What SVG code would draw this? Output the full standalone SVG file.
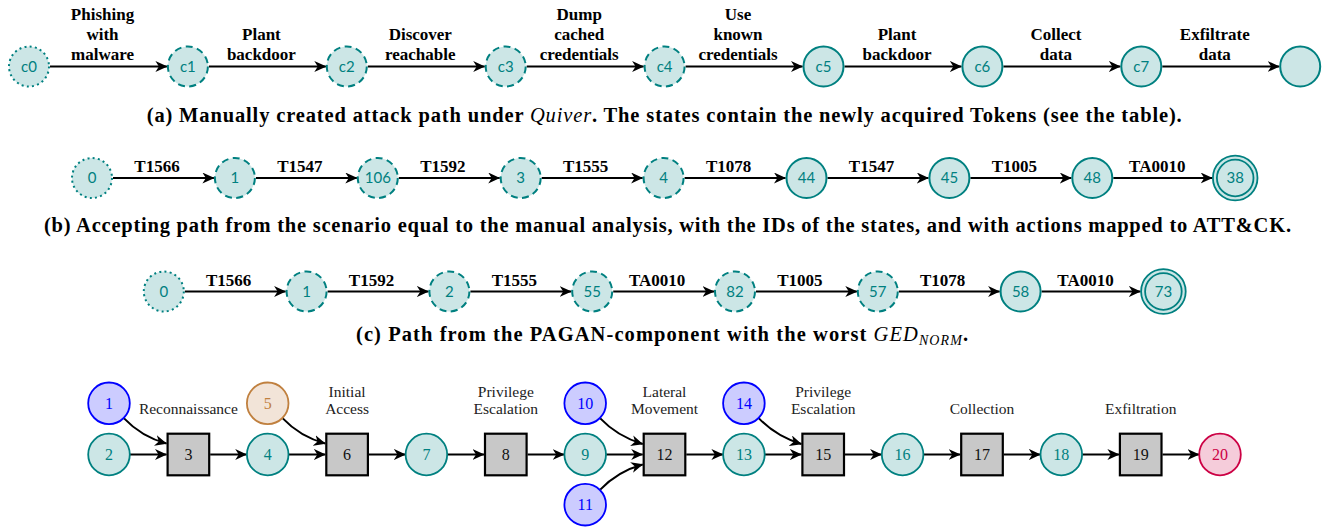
<svg xmlns="http://www.w3.org/2000/svg" width="1338" height="529" viewBox="0 0 1338 529">
<defs>
<marker id="ah" markerUnits="userSpaceOnUse" markerWidth="12" markerHeight="11" viewBox="0 0 12 11" refX="11.5" refY="5.5" orient="auto"><path d="M0,0 L12,5.5 L0,11 L3.5,5.5 z" fill="#000"/></marker>
<style>
.n{fill:#cce6e6;stroke:#008080;stroke-width:2}
.dash{stroke-dasharray:7 4.43}
.dot{stroke-dasharray:2 3.24}
.nt{font-family:Lato,"Noto Sans",sans-serif;font-size:15px;fill:#008080;text-anchor:middle}
.el{font-family:"Liberation Serif",serif;font-weight:bold;font-size:17px;text-anchor:middle;fill:#000}
.cap{font-family:"Liberation Serif",serif;font-weight:bold;font-size:20.5px;text-anchor:middle;fill:#000}
.it{font-style:italic;font-weight:normal}
.e{stroke:#000;stroke-width:2;fill:none;marker-end:url(#ah)}
.bt{fill:#cce6e6;stroke:#008080;stroke-width:1.8}
.bb{fill:#ccccff;stroke:#0000ff;stroke-width:1.8}
.bo{fill:#f2e4d8;stroke:#c0803f;stroke-width:1.8}
.br{fill:#f5ccda;stroke:#cc0044;stroke-width:1.8}
.sq{fill:#c8c8c8;stroke:#000;stroke-width:2.2}
.bn{font-family:"Liberation Serif",serif;font-size:16px;text-anchor:middle}
.tt{fill:#008080}.tb{fill:#0000ff}.to{fill:#c0803f}.tr{fill:#cc0044}.tk{fill:#111}
.pl{font-family:"Liberation Serif",serif;font-size:15.5px;text-anchor:middle;fill:#222}
</style>
</defs>
<rect width="1338" height="529" fill="#fff"/>

<!-- Row (a) -->
<g id="connectors-a">
<line class="e" x1="50" y1="66.5" x2="166.9" y2="66.5"/>
<line class="e" x1="208.9" y1="66.5" x2="325.8" y2="66.5"/>
<line class="e" x1="367.8" y1="66.5" x2="484.7" y2="66.5"/>
<line class="e" x1="526.7" y1="66.5" x2="643.6" y2="66.5"/>
<line class="e" x1="685.6" y1="66.5" x2="802.5" y2="66.5"/>
<line class="e" x1="844.5" y1="66.5" x2="961.4" y2="66.5"/>
<line class="e" x1="1003.4" y1="66.5" x2="1120.3" y2="66.5"/>
<line class="e" x1="1162.3" y1="66.5" x2="1279.2" y2="66.5"/>
<text class="el" x="102.5" y="20">Phishing</text><text class="el" x="102.5" y="40">with</text><text class="el" x="102.5" y="60">malware</text>
<text class="el" x="261.4" y="40">Plant</text><text class="el" x="261.4" y="60">backdoor</text>
<text class="el" x="420.3" y="40">Discover</text><text class="el" x="420.3" y="60">reachable</text>
<text class="el" x="579.2" y="20">Dump</text><text class="el" x="579.2" y="40">cached</text><text class="el" x="579.2" y="60">credentials</text>
<text class="el" x="738" y="20">Use</text><text class="el" x="738" y="40">known</text><text class="el" x="738" y="60">credentials</text>
<text class="el" x="897" y="40">Plant</text><text class="el" x="897" y="60">backdoor</text>
<text class="el" x="1055.9" y="40">Collect</text><text class="el" x="1055.9" y="60">data</text>
<text class="el" x="1214.8" y="40">Exfiltrate</text><text class="el" x="1214.8" y="60">data</text>
</g>
<g id="a-c0"><circle class="n dot" cx="29" cy="66.5" r="20"/><text class="nt" x="29" y="71.5">c0</text></g>
<g id="a-c1"><circle class="n dash" cx="187.9" cy="66.5" r="20"/><text class="nt" x="187.9" y="71.5">c1</text></g>
<g id="a-c2"><circle class="n dash" cx="346.8" cy="66.5" r="20"/><text class="nt" x="346.8" y="71.5">c2</text></g>
<g id="a-c3"><circle class="n dash" cx="505.7" cy="66.5" r="20"/><text class="nt" x="505.7" y="71.5">c3</text></g>
<g id="a-c4"><circle class="n dash" cx="664.6" cy="66.5" r="20"/><text class="nt" x="664.6" y="71.5">c4</text></g>
<g id="a-c5"><circle class="n" cx="823.5" cy="66.5" r="20"/><text class="nt" x="823.5" y="71.5">c5</text></g>
<g id="a-c6"><circle class="n" cx="982.4" cy="66.5" r="20"/><text class="nt" x="982.4" y="71.5">c6</text></g>
<g id="a-c7"><circle class="n" cx="1141.3" cy="66.5" r="20"/><text class="nt" x="1141.3" y="71.5">c7</text></g>
<g id="a-end"><circle class="n" cx="1300.2" cy="66.5" r="20"/></g>
<text class="cap" x="664.2" y="122" textLength="1035">(a) Manually created attack path under <tspan class="it">Quiver</tspan>. The states contain the newly acquired Tokens (see the table).</text>

<!-- Row (b) -->
<g id="connectors-b">
<line class="e" x1="113" y1="178" x2="213.9" y2="178"/>
<line class="e" x1="255.9" y1="178" x2="356.8" y2="178"/>
<line class="e" x1="398.8" y1="178" x2="499.7" y2="178"/>
<line class="e" x1="541.7" y1="178" x2="642.6" y2="178"/>
<line class="e" x1="684.6" y1="178" x2="785.5" y2="178"/>
<line class="e" x1="827.5" y1="178" x2="928.4" y2="178"/>
<line class="e" x1="970.4" y1="178" x2="1071.3" y2="178"/>
<line class="e" x1="1113.3" y1="178" x2="1212.2" y2="178"/>
<text class="el" x="157" y="172">T1566</text>
<text class="el" x="299.9" y="172">T1547</text>
<text class="el" x="442.8" y="172">T1592</text>
<text class="el" x="585.7" y="172">T1555</text>
<text class="el" x="728.6" y="172">T1078</text>
<text class="el" x="871.5" y="172">T1547</text>
<text class="el" x="1014.4" y="172">T1005</text>
<text class="el" x="1157.3" y="172">TA0010</text>
</g>
<g id="b-0"><circle class="n dot" cx="92" cy="178" r="20"/><text class="nt" x="92" y="183">0</text></g>
<g id="b-1"><circle class="n dash" cx="234.9" cy="178" r="20"/><text class="nt" x="234.9" y="183">1</text></g>
<g id="b-106"><circle class="n dash" cx="377.8" cy="178" r="20"/><text class="nt" x="377.8" y="183">106</text></g>
<g id="b-3"><circle class="n dash" cx="520.7" cy="178" r="20"/><text class="nt" x="520.7" y="183">3</text></g>
<g id="b-4"><circle class="n dash" cx="663.6" cy="178" r="20"/><text class="nt" x="663.6" y="183">4</text></g>
<g id="b-44"><circle class="n" cx="806.5" cy="178" r="20"/><text class="nt" x="806.5" y="183">44</text></g>
<g id="b-45"><circle class="n" cx="949.4" cy="178" r="20"/><text class="nt" x="949.4" y="183">45</text></g>
<g id="b-48"><circle class="n" cx="1092.3" cy="178" r="20"/><text class="nt" x="1092.3" y="183">48</text></g>
<g id="b-38"><circle class="n" cx="1235.2" cy="178" r="22.3" style="stroke-width:1.8"/><circle class="n" cx="1235.2" cy="178" r="18.3" style="stroke-width:1.8"/><text class="nt" x="1235.2" y="183">38</text></g>
<text class="cap" x="667.5" y="232" textLength="1247">(b) Accepting path from the scenario equal to the manual analysis, with the IDs of the states, and with actions mapped to ATT&amp;CK.</text>

<!-- Row (c) -->
<g id="connectors-c">
<line class="e" x1="184.8" y1="291.5" x2="285.6" y2="291.5"/>
<line class="e" x1="327.6" y1="291.5" x2="428.4" y2="291.5"/>
<line class="e" x1="470.4" y1="291.5" x2="571.2" y2="291.5"/>
<line class="e" x1="613.2" y1="291.5" x2="714" y2="291.5"/>
<line class="e" x1="756" y1="291.5" x2="856.8" y2="291.5"/>
<line class="e" x1="898.8" y1="291.5" x2="999.6" y2="291.5"/>
<line class="e" x1="1041.6" y1="291.5" x2="1140.4" y2="291.5"/>
<text class="el" x="228.7" y="285.5">T1566</text>
<text class="el" x="371.5" y="285.5">T1592</text>
<text class="el" x="514.3" y="285.5">T1555</text>
<text class="el" x="657.1" y="285.5">TA0010</text>
<text class="el" x="799.9" y="285.5">T1005</text>
<text class="el" x="942.7" y="285.5">T1078</text>
<text class="el" x="1085.5" y="285.5">TA0010</text>
</g>
<g id="c-0"><circle class="n dot" cx="163.8" cy="291.5" r="20"/><text class="nt" x="163.8" y="296.5">0</text></g>
<g id="c-1"><circle class="n dash" cx="306.6" cy="291.5" r="20"/><text class="nt" x="306.6" y="296.5">1</text></g>
<g id="c-2"><circle class="n dash" cx="449.4" cy="291.5" r="20"/><text class="nt" x="449.4" y="296.5">2</text></g>
<g id="c-55"><circle class="n dash" cx="592.2" cy="291.5" r="20"/><text class="nt" x="592.2" y="296.5">55</text></g>
<g id="c-82"><circle class="n dash" cx="735" cy="291.5" r="20"/><text class="nt" x="735" y="296.5">82</text></g>
<g id="c-57"><circle class="n dash" cx="877.8" cy="291.5" r="20"/><text class="nt" x="877.8" y="296.5">57</text></g>
<g id="c-58"><circle class="n" cx="1020.6" cy="291.5" r="20"/><text class="nt" x="1020.6" y="296.5">58</text></g>
<g id="c-73"><circle class="n" cx="1163.4" cy="291.5" r="22.3" style="stroke-width:1.8"/><circle class="n" cx="1163.4" cy="291.5" r="18.3" style="stroke-width:1.8"/><text class="nt" x="1163.4" y="296.5">73</text></g>
<text class="cap" x="662" y="341" textLength="612">(c) Path from the PAGAN-component with the worst <tspan class="it">GED</tspan><tspan class="it" font-size="14" dy="4">NORM</tspan><tspan dy="-4">.</tspan></text>

<!-- Bottom row -->
<g id="connectors-d">
<path class="e" d="M123.8,418.1 C136,431 150,439 166.5,443.5"/>
<line class="e" x1="130" y1="454.5" x2="166.5" y2="454.5"/>
<line class="e" x1="210.2" y1="454.5" x2="246.7" y2="454.5"/>
<path class="e" d="M282.5,418.1 C294.7,431 308.7,439 325.3,443.5"/>
<line class="e" x1="288.7" y1="454.5" x2="325.3" y2="454.5"/>
<line class="e" x1="368.9" y1="454.5" x2="405.4" y2="454.5"/>
<line class="e" x1="447.4" y1="454.5" x2="484" y2="454.5"/>
<line class="e" x1="527.6" y1="454.5" x2="564.2" y2="454.5"/>
<path class="e" d="M600,418.1 C612.2,431 626.2,439 642.7,444"/>
<line class="e" x1="606.2" y1="454.5" x2="642.7" y2="454.5"/>
<path class="e" d="M600,489.9 C612.2,477 626.2,469 642.7,464.5"/>
<line class="e" x1="686.3" y1="454.5" x2="722.9" y2="454.5"/>
<path class="e" d="M758.7,418.1 C770.9,431 784.9,439 801.4,444"/>
<line class="e" x1="764.9" y1="454.5" x2="801.4" y2="454.5"/>
<line class="e" x1="845" y1="454.5" x2="881.6" y2="454.5"/>
<line class="e" x1="923.6" y1="454.5" x2="960.2" y2="454.5"/>
<line class="e" x1="1003.8" y1="454.5" x2="1040.3" y2="454.5"/>
<line class="e" x1="1082.3" y1="454.5" x2="1118.9" y2="454.5"/>
<line class="e" x1="1162.5" y1="454.5" x2="1199" y2="454.5"/>
</g>
<g id="phase-labels">
<text class="pl" x="188.4" y="414">Reconnaissance</text>
<text class="pl" x="347.1" y="396.5">Initial</text><text class="pl" x="347.1" y="414">Access</text>
<text class="pl" x="505.8" y="396.5">Privilege</text><text class="pl" x="505.8" y="414">Escalation</text>
<text class="pl" x="664.5" y="396.5">Lateral</text><text class="pl" x="664.5" y="414">Movement</text>
<text class="pl" x="823.2" y="396.5">Privilege</text><text class="pl" x="823.2" y="414">Escalation</text>
<text class="pl" x="982" y="414">Collection</text>
<text class="pl" x="1140.7" y="414">Exfiltration</text>
</g>
<g id="d-1"><circle class="bb" cx="109" cy="403.3" r="20.8"/><text class="bn tb" x="109" y="409">1</text></g>
<g id="d-2"><circle class="bt" cx="109" cy="454.5" r="20.8"/><text class="bn tt" x="109" y="460">2</text></g>
<g id="d-3"><rect class="sq" x="167.6" y="433.7" width="41.6" height="41.6"/><text class="bn tk" x="188.4" y="460">3</text></g>
<g id="d-4"><circle class="bt" cx="267.7" cy="454.5" r="20.8"/><text class="bn tt" x="267.7" y="460">4</text></g>
<g id="d-5"><circle class="bo" cx="267.7" cy="403.3" r="20.8"/><text class="bn to" x="267.7" y="409">5</text></g>
<g id="d-6"><rect class="sq" x="326.3" y="433.7" width="41.6" height="41.6"/><text class="bn tk" x="347.1" y="460">6</text></g>
<g id="d-7"><circle class="bt" cx="426.4" cy="454.5" r="20.8"/><text class="bn tt" x="426.4" y="460">7</text></g>
<g id="d-8"><rect class="sq" x="485" y="433.7" width="41.6" height="41.6"/><text class="bn tk" x="505.8" y="460">8</text></g>
<g id="d-9"><circle class="bt" cx="585.2" cy="454.5" r="20.8"/><text class="bn tt" x="585.2" y="460">9</text></g>
<g id="d-10"><circle class="bb" cx="585.2" cy="403.3" r="20.8"/><text class="bn tb" x="585.2" y="409">10</text></g>
<g id="d-11"><circle class="bb" cx="585.2" cy="504.7" r="20.8"/><text class="bn tb" x="585.2" y="510.3">11</text></g>
<g id="d-12"><rect class="sq" x="643.7" y="433.7" width="41.6" height="41.6"/><text class="bn tk" x="664.5" y="460">12</text></g>
<g id="d-13"><circle class="bt" cx="743.9" cy="454.5" r="20.8"/><text class="bn tt" x="743.9" y="460">13</text></g>
<g id="d-14"><circle class="bb" cx="743.9" cy="403.3" r="20.8"/><text class="bn tb" x="743.9" y="409">14</text></g>
<g id="d-15"><rect class="sq" x="802.4" y="433.7" width="41.6" height="41.6"/><text class="bn tk" x="823.2" y="460">15</text></g>
<g id="d-16"><circle class="bt" cx="902.6" cy="454.5" r="20.8"/><text class="bn tt" x="902.6" y="460">16</text></g>
<g id="d-17"><rect class="sq" x="961.2" y="433.7" width="41.6" height="41.6"/><text class="bn tk" x="982" y="460">17</text></g>
<g id="d-18"><circle class="bt" cx="1061.3" cy="454.5" r="20.8"/><text class="bn tt" x="1061.3" y="460">18</text></g>
<g id="d-19"><rect class="sq" x="1119.9" y="433.7" width="41.6" height="41.6"/><text class="bn tk" x="1140.7" y="460">19</text></g>
<g id="d-20"><circle class="br" cx="1220" cy="454.5" r="20.8"/><text class="bn tr" x="1220" y="460">20</text></g>
</svg>
